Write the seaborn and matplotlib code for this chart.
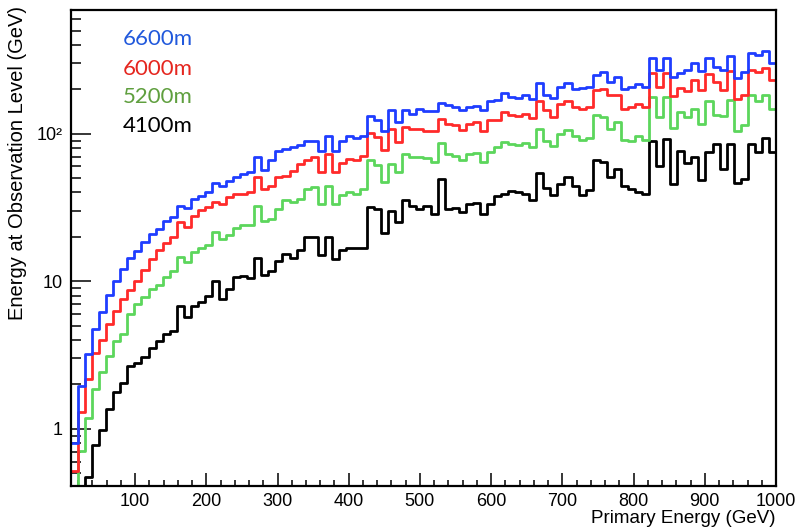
import numpy as np
import pandas as pd
import matplotlib
matplotlib.use("Agg")
import matplotlib.pyplot as plt
from matplotlib.ticker import FixedLocator, FixedFormatter, LogLocator, MultipleLocator, NullFormatter
import seaborn as sns

# Histogram binning: 100 bins between 10 and 1000 GeV of primary energy
bin_edges = np.linspace(10, 1000, 101)

altitudes = ["6600m", "6000m", "5200m", "4100m"]

# Mean energy reaching the observation level (GeV), one value per bin
obs_6600 = [
    0.8, 1.94, 3.22, 4.75, 6.2, 8.1, 10.1, 12.1, 14.4, 16.0,
    18.4, 20.9, 22.6, 25.5, 27.2, 32.6, 31.4, 36.2, 38.1, 40.2,
    46.2, 44.6, 48.2, 50.8, 53.5, 55.0, 69.4, 56.4, 66.6, 77.0,
    78.3, 81.2, 84.0, 90.0, 90.0, 76.0, 97.0, 77.0, 90.0, 96.0,
    93.0, 96.0, 132.0, 124.0, 104.0, 146.0, 120.0, 146.0, 137.0, 148.0,
    142.0, 142.0, 161.0, 156.0, 153.0, 146.0, 153.0, 155.0, 145.0, 168.0,
    170.0, 188.0, 177.0, 174.0, 184.0, 171.0, 220.0, 182.0, 174.0, 209.0,
    220.0, 202.0, 205.0, 209.0, 252.0, 264.0, 226.0, 242.0, 202.0, 207.0,
    218.0, 209.0, 327.0, 272.0, 327.0, 242.0, 258.0, 269.0, 301.0, 266.0,
    327.0, 283.0, 269.0, 336.0, 240.0, 264.0, 352.0, 343.0, 363.0, 301.0,
]
obs_6000 = [
    0.52, 1.30, 2.18, 3.26, 4.0, 5.1, 6.3, 7.6, 8.8, 10.0,
    12.0, 14.2, 16.2, 18.1, 19.9, 25.2, 23.3, 27.9, 30.2, 31.8,
    34.4, 33.5, 37.2, 38.8, 39.2, 40.2, 50.8, 42.4, 44.6, 50.8,
    52.1, 56.0, 62.6, 66.6, 69.4, 55.0, 72.4, 55.0, 63.2, 67.7,
    66.6, 70.2, 101.0, 94.9, 77.1, 108.0, 87.7, 112.0, 108.0, 108.0,
    103.7, 105.2, 126.4, 115.6, 113.8, 106.4, 115.6, 119.9, 104.2, 123.1,
    124.4, 140.0, 133.0, 131.0, 136.7, 128.3, 168.0, 144.0, 130.0, 158.0,
    168.0, 153.0, 148.0, 153.0, 199.0, 202.0, 182.0, 184.0, 148.0, 151.0,
    160.0, 151.0, 258.0, 207.0, 258.0, 179.0, 205.0, 194.0, 230.0, 197.0,
    255.0, 224.0, 197.0, 266.0, 173.0, 182.0, 269.0, 262.0, 279.0, 230.0,
]
obs_5200 = [
    0.0, 0.71, 1.18, 1.85, 2.42, 3.1, 3.97, 4.4, 6.0, 7.0,
    7.8, 8.9, 9.4, 10.7, 11.8, 14.6, 13.5, 15.8, 16.9, 17.5,
    21.5, 19.4, 20.5, 23.1, 23.9, 23.9, 32.6, 25.8, 26.5, 31.0,
    35.3, 34.4, 36.3, 42.4, 43.4, 33.5, 44.6, 33.5, 38.2, 40.2,
    39.2, 42.4, 65.9, 61.9, 47.0, 62.6, 55.0, 73.2, 69.4, 69.4,
    68.8, 64.2, 86.3, 73.2, 70.2, 66.6, 72.4, 74.0, 64.2, 75.0,
    81.2, 87.7, 85.5, 83.3, 86.3, 81.2, 108.0, 90.0, 83.0, 100.0,
    106.0, 97.0, 91.0, 94.0, 133.0, 130.0, 108.0, 120.0, 91.0, 89.0,
    97.0, 91.0, 177.0, 130.0, 177.0, 110.0, 140.0, 130.0, 148.0, 117.0,
    168.0, 133.0, 131.0, 170.0, 105.0, 114.0, 182.0, 168.0, 182.0, 148.0,
]
obs_4100 = [
    0.0, 0.0, 0.47, 0.78, 0.98, 1.37, 1.77, 2.03, 2.66, 2.78,
    3.06, 3.55, 3.95, 4.4, 4.64, 6.75, 5.71, 6.85, 7.2, 7.9,
    10.1, 7.6, 8.9, 10.7, 10.9, 10.6, 14.4, 11.1, 11.8, 13.8,
    15.4, 14.4, 16.2, 19.9, 19.9, 15.0, 19.9, 14.2, 16.2, 16.9,
    16.9, 16.9, 31.8, 31.0, 21.2, 29.9, 25.2, 35.6, 32.2, 31.0,
    32.2, 28.7, 49.6, 31.0, 31.5, 29.5, 33.5, 34.0, 28.7, 33.5,
    37.6, 38.8, 40.8, 40.2, 39.2, 35.6, 54.0, 43.0, 38.2, 45.8,
    50.8, 44.6, 38.2, 41.3, 66.6, 64.2, 50.8, 57.9, 44.6, 42.0,
    40.2, 39.2, 90.0, 60.7, 92.5, 45.8, 76.2, 63.0, 69.4, 48.8,
    75.0, 84.6, 58.0, 85.5, 46.2, 49.6, 85.5, 75.0, 94.0, 75.0,
]

x_ticks = [100, 200, 300, 400, 500, 600, 700, 800, 900, 1000]
y_ticks = [1, 10, 100]
y_tick_labels = ["1", "10", "10²"]

line_colors = {"6600m": "#1f3dff", "6000m": "#ff2a2a", "5200m": "#5cd65c", "4100m": "#000000"}
text_colors = {"6600m": "#2159dc", "6000m": "#e5261f", "5200m": "#5f9f3e", "4100m": "#000000"}

series = {"6600m": obs_6600, "6000m": obs_6000, "5200m": obs_5200, "4100m": obs_4100}

frames = []
for name in altitudes:
    vals = np.asarray(series[name], dtype=float)
    frames.append(pd.DataFrame({
        "primary": bin_edges,
        "observed": np.append(vals, vals[-1]),
        "altitude": name,
    }))
df = pd.concat(frames, ignore_index=True)

sns.set_theme(style="white")
plt.rcParams["font.family"] = ["Liberation Sans", "DejaVu Sans"]
plt.rcParams["text.color"] = "black"
plt.rcParams["axes.labelcolor"] = "black"
plt.rcParams["xtick.color"] = "black"
plt.rcParams["ytick.color"] = "black"

fig = plt.figure(figsize=(7.95, 5.32), dpi=100)
ax = fig.add_axes([0.0893, 0.0865, 0.8868, 0.8947])

sns.lineplot(
    data=df, x="primary", y="observed", hue="altitude", hue_order=altitudes[::-1],
    palette=line_colors, drawstyle="steps-post", estimator=None, sort=False,
    linewidth=2.0, legend=False, ax=ax,
)

ax.set_yscale("log")
ax.set_xlim(10, 1000)
ax.set_ylim(0.41, 690)

ax.xaxis.set_major_locator(FixedLocator(x_ticks))
ax.xaxis.set_minor_locator(MultipleLocator(20))
ax.yaxis.set_major_locator(FixedLocator(y_ticks))
ax.yaxis.set_major_formatter(FixedFormatter(y_tick_labels))
ax.yaxis.set_minor_locator(LogLocator(base=10, subs=np.arange(2, 10)))
ax.yaxis.set_minor_formatter(NullFormatter())

ax.tick_params(axis="both", which="both", direction="in", color="black",
               left=True, bottom=True, top=False, right=False)
ax.tick_params(axis="x", which="major", length=9.4, width=1.1, labelsize=13, pad=5)
ax.tick_params(axis="x", which="minor", length=4.3, width=1.1)
ax.tick_params(axis="y", which="major", length=14.4, width=1.1, labelsize=13, pad=6)
ax.tick_params(axis="y", which="minor", length=7.2, width=1.1)

for sp in ax.spines.values():
    sp.set_color("black")
    sp.set_linewidth(1.6)

ax.set_xlabel("Primary Energy (GeV)", fontsize=13.5, loc="right")
ax.xaxis.set_label_coords(1.0, -0.05)
ax.set_ylabel("Energy at Observation Level (GeV)", fontsize=14.5, loc="top")
ax.yaxis.set_label_coords(-0.063, 1.008)

# Altitude labels, coloured like their curves
baselines = [0.9265, 0.8634, 0.8046, 0.7437]
for name, yb in zip(altitudes, baselines):
    ax.text(0.074, yb, name, transform=ax.transAxes, color=text_colors[name],
            fontsize=16, family=["Lato", "DejaVu Sans"], va="baseline", ha="left")

fig.savefig("out.png", dpi=100)
